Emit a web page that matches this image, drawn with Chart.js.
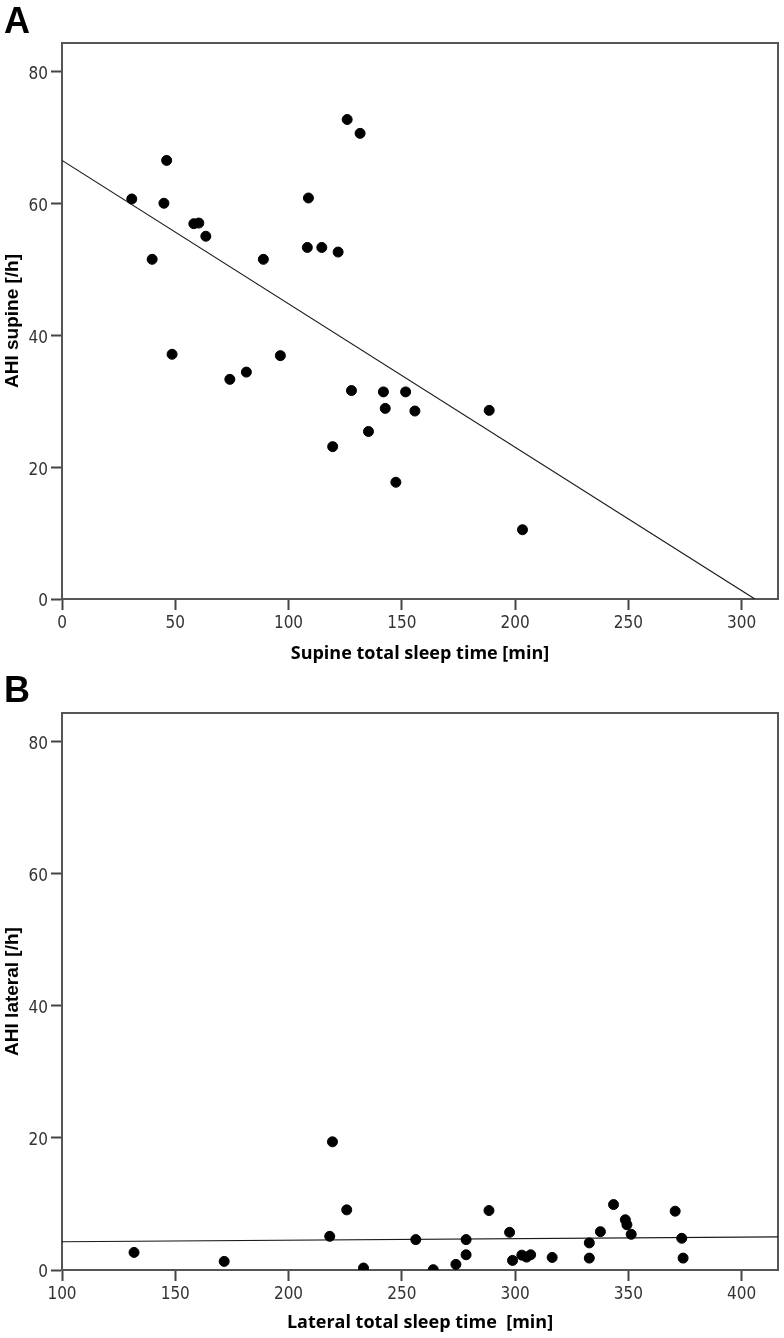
<!DOCTYPE html>
<html>
<head>
<meta charset="utf-8">
<script src="https://cdn.jsdelivr.net/npm/chart.js@4"></script>
<style>
  html, body { margin: 0; padding: 0; background: #fff; }
  .panel { position: absolute; left: 0; width: 784px; height: 669px; }
  .letter { position: absolute; left: 4px; font: bold 36px "Liberation Sans", Arial, sans-serif; line-height: 1; color: #000; }
</style>
</head>
<body>
<div class="panel" style="top:0"><canvas id="chartA" width="784" height="669"></canvas></div>
<div class="panel" style="top:669px"><canvas id="chartB" width="784" height="669"></canvas></div>
<div class="letter" style="top:3px">A</div>
<div class="letter" style="top:672px">B</div>
<script>
// Panel A: supine
const supineTime = [30.8, 39.8, 45.0, 46.2, 48.6, 58.2, 60.4, 63.5, 74.1, 81.4, 88.9, 96.4, 108.3, 108.8,
  114.7, 119.5, 121.9, 125.9, 127.8, 131.6, 135.3, 141.9, 142.7, 147.4, 151.7, 155.8, 188.6, 203.3];
const ahiSupine = [60.65, 51.5, 60.0, 66.5, 37.1, 56.9, 57.0, 55.0, 33.3, 34.4, 51.5, 36.9, 53.3, 60.8,
  53.3, 23.1, 52.6, 72.7, 31.6, 70.6, 25.4, 31.4, 28.9, 17.7, 31.4, 28.5, 28.6, 10.5];
const supineFit = { intercept: 66.5, slope: -0.2174 };
const supineTicks = [0, 50, 100, 150, 200, 250, 300];

// Panel B: lateral
const lateralTime = [131.8, 171.6, 218.2, 219.4, 225.7, 233.1, 256.2, 263.9, 273.9, 278.4, 278.4, 288.5,
  297.6, 298.9, 303.0, 305.1, 306.9, 316.4, 332.8, 332.8, 337.7, 343.5, 348.7, 349.4, 351.3, 370.7, 373.6, 374.2];
const ahiLateral = [2.66, 1.3, 5.1, 19.4, 9.1, 0.3, 4.6, 0.05, 0.85, 4.6, 2.3, 9.0,
  5.7, 1.45, 2.25, 1.95, 2.3, 1.9, 4.1, 1.8, 5.8, 9.9, 7.6, 6.85, 5.4, 8.9, 4.8, 1.8];
const lateralFit = { intercept: 4.04, slope: 0.00237 };
const lateralTicks = [100, 150, 200, 250, 300, 350, 400];

const ahiTicks = [0, 20, 40, 60, 80];

const tickFont = { family: "'Liberation Sans Narrow', 'DejaVu Sans Condensed', sans-serif", size: 17 };
const axisColor = "#555";

// top + right edges of the box
const framePlugin = {
  id: "frame",
  beforeDatasetsDraw(chart) {
    const { ctx, chartArea: a } = chart;
    ctx.save();
    ctx.strokeStyle = axisColor;
    ctx.lineWidth = 2;
    ctx.beginPath();
    ctx.moveTo(a.left, a.top);
    ctx.lineTo(a.right, a.top);
    ctx.lineTo(a.right, a.bottom);
    ctx.stroke();
    ctx.restore();
  }
};

function fitLine(fit, xMin, xMax) {
  // end where the line hits y = 0 if that is inside the axis
  let xEnd = xMax;
  const xZero = -fit.intercept / fit.slope;
  if (fit.slope < 0 && xZero < xMax) xEnd = xZero;
  return [xMin, xEnd].map(x => ({ x: x, y: fit.intercept + fit.slope * x }));
}

function makeChart(id, xs, ys, fit, xMin, xMax, xTicks, xTitle, yTitle, padTop, xAxisH) {
  const points = xs.map((x, i) => ({ x: x, y: ys[i] }));
  return new Chart(document.getElementById(id), {
    type: "scatter",
    data: {
      datasets: [
        {
          data: points,
          backgroundColor: "#000",
          borderColor: "#000",
          pointRadius: 5,
          pointHoverRadius: 5
        },
        {
          type: "line",
          data: fitLine(fit, xMin, xMax),
          borderColor: "#1a1a1a",
          borderWidth: 1.2,
          pointRadius: 0,
          fill: false
        }
      ]
    },
    options: {
      responsive: false,
      animation: false,
      layout: { padding: { top: padTop, right: 4, left: 0, bottom: 0 } },
      plugins: { legend: { display: false }, tooltip: { enabled: false } },
      scales: {
        x: {
          type: "linear",
          min: xMin,
          max: xMax,
          afterBuildTicks: s => { s.ticks = xTicks.map(v => ({ value: v })); },
          afterFit: s => { s.height = xAxisH; },
          grid: { drawOnChartArea: false, tickLength: 11, tickColor: "#444", tickWidth: 2 },
          border: { color: axisColor, width: 2 },
          ticks: { font: tickFont, color: "#333", padding: 3, maxRotation: 0 },
          title: {
            display: true,
            text: xTitle,
            color: "#000",
            font: { family: "'Open Sans', sans-serif", size: 18, weight: "bold" },
            padding: { top: 0, bottom: 4 }
          }
        },
        y: {
          min: 0,
          max: 84.3,
          afterBuildTicks: s => { s.ticks = ahiTicks.map(v => ({ value: v })); },
          afterFit: s => { s.width = 62; },
          grid: { drawOnChartArea: false, tickLength: 11, tickColor: "#444", tickWidth: 2 },
          border: { color: axisColor, width: 2 },
          ticks: { font: tickFont, color: "#333", padding: 3, labelOffset: 3 },
          title: {
            display: true,
            text: yTitle,
            color: "#000",
            font: { family: "'Liberation Sans', Arial, sans-serif", size: 19, weight: "bold" },
            padding: { top: 1, bottom: 0 }
          }
        }
      }
    },
    plugins: [framePlugin]
  });
}

makeChart("chartA", supineTime, ahiSupine, supineFit, 0, 316.1, supineTicks,
  "Supine total sleep time [min]", "AHI supine [/h]", 43, 70);
makeChart("chartB", lateralTime, ahiLateral, lateralFit, 100, 416.1, lateralTicks,
  "Lateral total sleep time  [min]", "AHI lateral [/h]", 44, 68);
</script>
</body>
</html>
